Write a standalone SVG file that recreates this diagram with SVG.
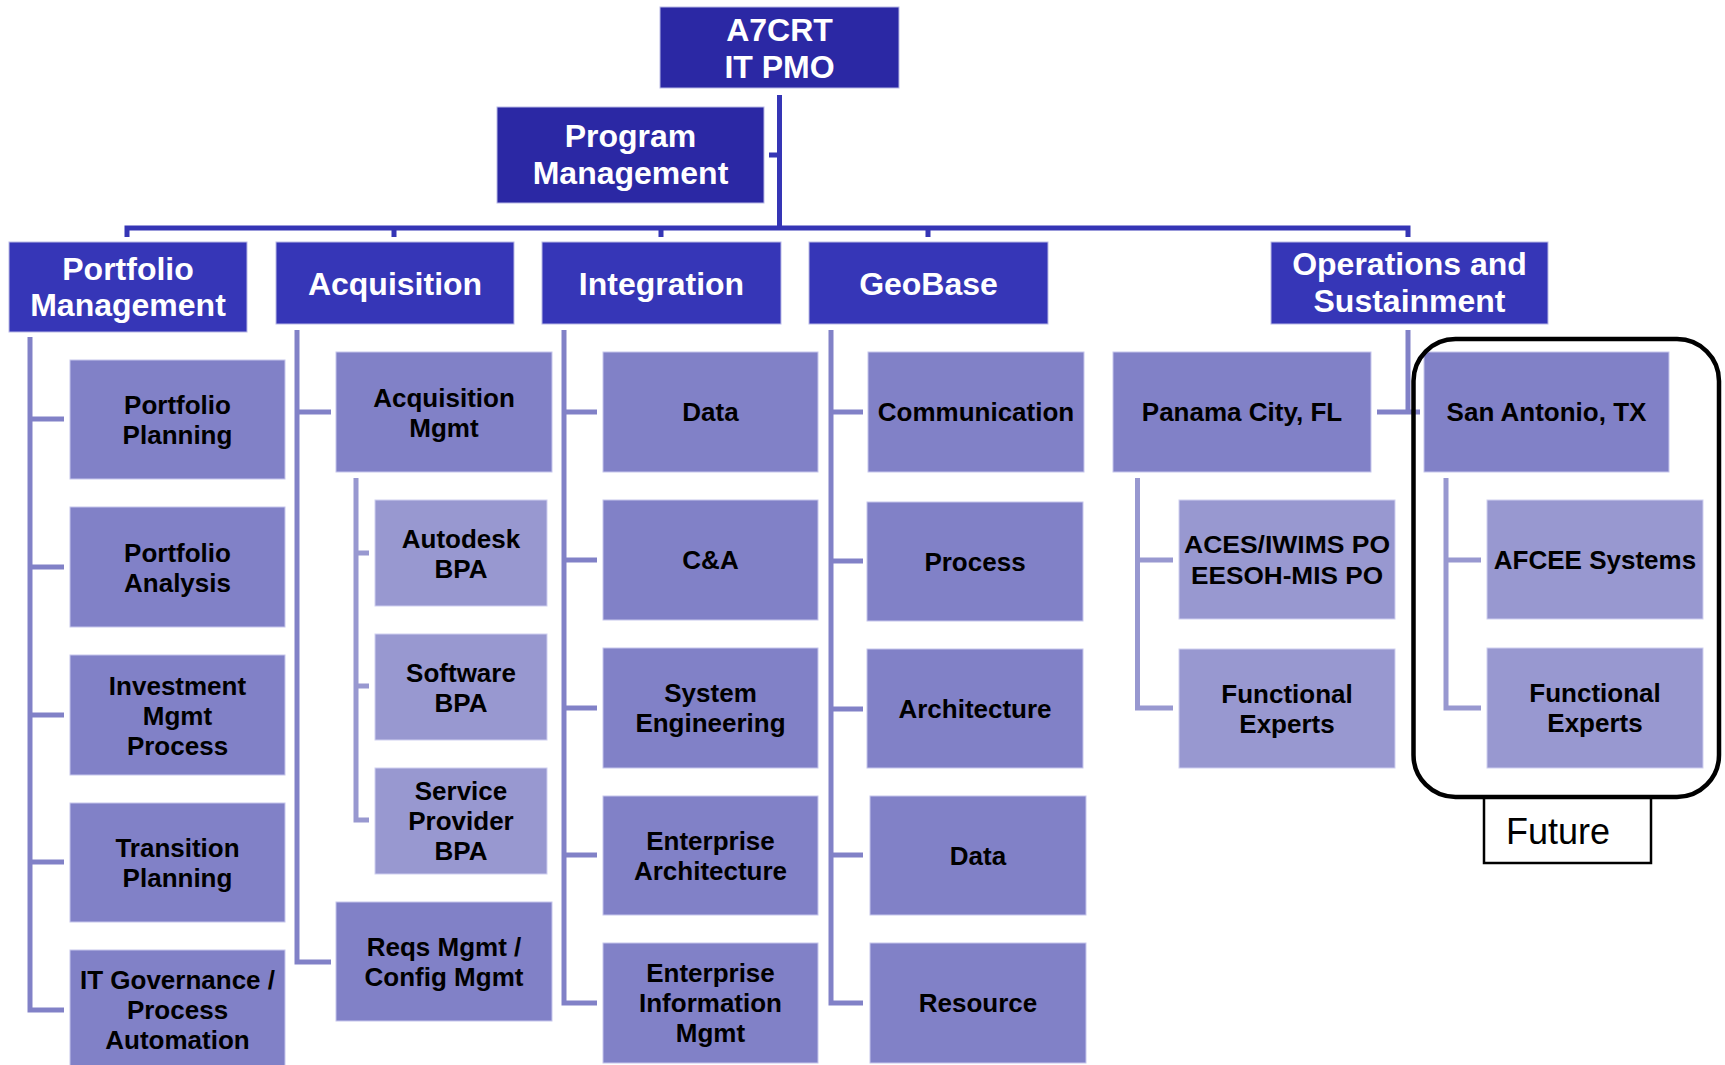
<svg xmlns="http://www.w3.org/2000/svg" width="1725" height="1065" viewBox="0 0 1725 1065">
<style>
text{font-family:"Liberation Sans",Arial,sans-serif;font-weight:bold;text-anchor:middle}
.l0{fill:#2B28A4;stroke:#b9b9e6;stroke-width:1}
.l1{fill:#3636B7;stroke:#b9b9e6;stroke-width:1}
.l2{fill:#8181C7;stroke:#c6c6ec;stroke-width:1}
.l3{fill:#9898D0;stroke:#cfcff0;stroke-width:1}
.tw{fill:#fff;font-size:32px}
.tb{fill:#000;font-size:26px}
.c0{fill:none;stroke:#3535B5;stroke-width:5}
.c2{fill:none;stroke:#8181C7;stroke-width:5}
.c3{fill:none;stroke:#9898D0;stroke-width:5}
</style>
<rect width="1725" height="1065" fill="#fff"/>
<g id="connectors">
<path class="c0" d="M779.5,95 V228 M769,155 H779.5 M127,237 V228 H1408 V237 M394,228 V237 M661,228 V237 M928,228 V237"/>
<path class="c2" d="M30,337 V1010 H64 M30,419 H64 M30,567 H64 M30,715 H64 M30,862 H64"/>
<path class="c2" d="M297,330 V962 H331 M297,412 H331"/>
<path class="c3" d="M356,478 V820 H369 M356,553 H369 M356,686 H369"/>
<path class="c2" d="M564,330 V1003 H597 M564,412 H597 M564,560 H597 M564,708 H597 M564,855 H597"/>
<path class="c2" d="M831,330 V1003 H863 M831,412 H863 M831,561 H863 M831,709 H863 M831,855 H863"/>
<path class="c2" d="M1408,330 V412 M1377,412 H1420"/>
<path class="c3" d="M1137.5,478 V708 H1173 M1137.5,560 H1173"/>
<path class="c3" d="M1446,478 V708 H1481 M1446,560 H1481"/>
</g>
<g id="n-a7crt"><rect class="l0" x="660" y="7" width="239" height="81"/><text class="tw" x="779.5" y="41">A7CRT</text><text class="tw" x="779.5" y="78">IT PMO</text></g>
<g id="n-program"><rect class="l0" x="497" y="107" width="267" height="96"/><text class="tw" x="630.5" y="147">Program</text><text class="tw" x="630.5" y="184">Management</text></g>
<g id="n-portfolio"><rect class="l1" x="9" y="242" width="238" height="90"/><text class="tw" x="128" y="280">Portfolio</text><text class="tw" x="128" y="316">Management</text></g>
<g id="n-acquisition"><rect class="l1" x="276" y="242" width="238" height="82"/><text class="tw" x="395" y="295">Acquisition</text></g>
<g id="n-integration"><rect class="l1" x="542" y="242" width="239" height="82"/><text class="tw" x="661.5" y="295">Integration</text></g>
<g id="n-geobase"><rect class="l1" x="809" y="242" width="239" height="82"/><text class="tw" x="928.5" y="295">GeoBase</text></g>
<g id="n-ops"><rect class="l1" x="1271" y="242" width="277" height="82"/><text class="tw" x="1409.5" y="275">Operations and</text><text class="tw" x="1409.5" y="312">Sustainment</text></g>
<g id="n-pf-planning"><rect class="l2" x="70" y="360" width="215" height="119"/><text class="tb" x="177.5" y="414">Portfolio</text><text class="tb" x="177.5" y="444">Planning</text></g>
<g id="n-pf-analysis"><rect class="l2" x="70" y="507" width="215" height="120"/><text class="tb" x="177.5" y="562">Portfolio</text><text class="tb" x="177.5" y="592">Analysis</text></g>
<g id="n-investment"><rect class="l2" x="70" y="655" width="215" height="120"/><text class="tb" x="177.5" y="695">Investment</text><text class="tb" x="177.5" y="725">Mgmt</text><text class="tb" x="177.5" y="755">Process</text></g>
<g id="n-transition"><rect class="l2" x="70" y="803" width="215" height="119"/><text class="tb" x="177.5" y="857">Transition</text><text class="tb" x="177.5" y="887">Planning</text></g>
<g id="n-itgov"><rect class="l2" x="70" y="950" width="215" height="119"/><text class="tb" x="177.5" y="989">IT Governance /</text><text class="tb" x="177.5" y="1019">Process</text><text class="tb" x="177.5" y="1049">Automation</text></g>
<g id="n-acq-mgmt"><rect class="l2" x="336" y="352" width="216" height="120"/><text class="tb" x="444" y="407">Acquisition</text><text class="tb" x="444" y="437">Mgmt</text></g>
<g id="n-autodesk"><rect class="l3" x="375" y="500" width="172" height="106"/><text class="tb" x="461" y="548">Autodesk</text><text class="tb" x="461" y="578">BPA</text></g>
<g id="n-software"><rect class="l3" x="375" y="634" width="172" height="106"/><text class="tb" x="461" y="682">Software</text><text class="tb" x="461" y="712">BPA</text></g>
<g id="n-service"><rect class="l3" x="375" y="768" width="172" height="106"/><text class="tb" x="461" y="800">Service</text><text class="tb" x="461" y="830">Provider</text><text class="tb" x="461" y="860">BPA</text></g>
<g id="n-reqs"><rect class="l2" x="336" y="902" width="216" height="119"/><text class="tb" x="444" y="956">Reqs Mgmt /</text><text class="tb" x="444" y="986">Config Mgmt</text></g>
<g id="n-int-data"><rect class="l2" x="603" y="352" width="215" height="120"/><text class="tb" x="710.5" y="421">Data</text></g>
<g id="n-ca"><rect class="l2" x="603" y="500" width="215" height="120"/><text class="tb" x="710.5" y="569">C&amp;A</text></g>
<g id="n-syseng"><rect class="l2" x="603" y="648" width="215" height="120"/><text class="tb" x="710.5" y="702">System</text><text class="tb" x="710.5" y="732">Engineering</text></g>
<g id="n-ea"><rect class="l2" x="603" y="796" width="215" height="119"/><text class="tb" x="710.5" y="850">Enterprise</text><text class="tb" x="710.5" y="880">Architecture</text></g>
<g id="n-eim"><rect class="l2" x="603" y="943" width="215" height="120"/><text class="tb" x="710.5" y="982">Enterprise</text><text class="tb" x="710.5" y="1012">Information</text><text class="tb" x="710.5" y="1042">Mgmt</text></g>
<g id="n-comm"><rect class="l2" x="868" y="352" width="216" height="120"/><text class="tb" x="976" y="421">Communication</text></g>
<g id="n-process"><rect class="l2" x="867" y="502" width="216" height="119"/><text class="tb" x="975" y="571">Process</text></g>
<g id="n-arch"><rect class="l2" x="867" y="649" width="216" height="119"/><text class="tb" x="975" y="718">Architecture</text></g>
<g id="n-geo-data"><rect class="l2" x="870" y="796" width="216" height="119"/><text class="tb" x="978" y="865">Data</text></g>
<g id="n-resource"><rect class="l2" x="870" y="943" width="216" height="120"/><text class="tb" x="978" y="1012">Resource</text></g>
<g id="n-panama"><rect class="l2" x="1113" y="352" width="258" height="120"/><text class="tb" x="1242" y="421">Panama City, FL</text></g>
<g id="n-aces"><rect class="l3" x="1179" y="500" width="216" height="119"/><text class="tb" x="1287" y="553" style="font-size:24px" textLength="206" lengthAdjust="spacingAndGlyphs">ACES/IWIMS PO</text><text class="tb" x="1287" y="584" style="font-size:24px" textLength="192" lengthAdjust="spacingAndGlyphs">EESOH-MIS PO</text></g>
<g id="n-pc-fe"><rect class="l3" x="1179" y="649" width="216" height="119"/><text class="tb" x="1287" y="703">Functional</text><text class="tb" x="1287" y="733">Experts</text></g>
<g id="n-sanantonio"><rect class="l2" x="1424" y="352" width="245" height="120"/><text class="tb" x="1546.5" y="421">San Antonio, TX</text></g>
<g id="n-afcee"><rect class="l3" x="1487" y="500" width="216" height="119"/><text class="tb" x="1595" y="569">AFCEE Systems</text></g>
<g id="n-sa-fe"><rect class="l3" x="1487" y="648" width="216" height="120"/><text class="tb" x="1595" y="702">Functional</text><text class="tb" x="1595" y="732">Experts</text></g>
<g id="future">
<rect x="1413.5" y="339" width="305.5" height="458" rx="42" ry="42" fill="none" stroke="#000" stroke-width="4.5"/>
<rect x="1484" y="798" width="167" height="65" fill="#fff" stroke="#000" stroke-width="2.5"/>
<text x="1506" y="844" style="font-weight:normal;font-size:36px;fill:#000;text-anchor:start">Future</text>
</g>
</svg>
